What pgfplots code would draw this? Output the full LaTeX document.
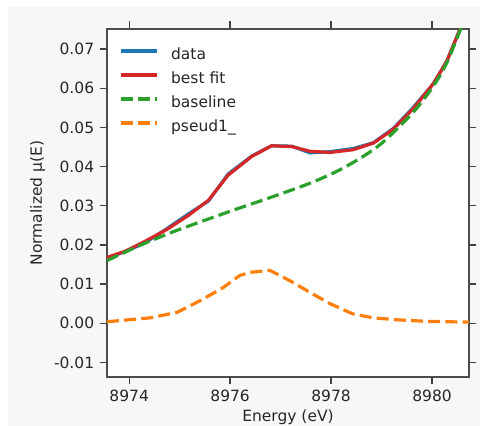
\documentclass[border=0pt]{standalone}
\usepackage{fontspec}
\setmainfont{DejaVu Sans}
\usepackage{pgfplots}
\pgfplotsset{compat=1.18}
\definecolor{tabblue}{HTML}{1F77B4}
\definecolor{tabred}{HTML}{D62728}
\definecolor{tabgreen}{HTML}{2CA02C}
\definecolor{taborange}{HTML}{FF7F0E}
\definecolor{figbg}{HTML}{F7F7F7}
\definecolor{txt}{HTML}{262626}
\begin{document}
\fontsize{15.5pt}{18pt}\selectfont
\begin{tikzpicture}[x=1pt,y=1pt]
\useasboundingbox (0,0) rectangle (480,426);
\fill[figbg] (8,0) rectangle (480,419);
\begin{axis}[
  at={(107pt,49pt)}, anchor=south west,
  scale only axis, width=362pt, height=348pt,
  xmin=8973.56, xmax=8980.733, ymin=-0.0137, ymax=0.0751,
  scaled x ticks=false, scaled y ticks=false,
  axis background/.style={fill=white},
  xtick={8974,8976,8978,8980},
  xticklabels={8974,8976,8978,8980},
  ytick={-0.01,0,0.01,0.02,0.03,0.04,0.05,0.06,0.07},
  yticklabels={-0.01,0.00,0.01,0.02,0.03,0.04,0.05,0.06,0.07},
  tick align=outside,
  major tick length=7.5pt,
  every tick/.style={line width=1.3pt, black!75},
  axis line style={line width=1.3pt, black!70},
  ticklabel style={font=\fontsize{15.5pt}{18pt}\selectfont, text=txt},
  xlabel={Energy (eV)},
  ylabel={Normalized μ(E)},
  label style={font=\fontsize{15.5pt}{18pt}\selectfont, text=txt},
  xlabel style={at={(axis description cs:0.5,-0.1293)}, anchor=base, inner sep=0pt},
  ylabel style={at={(axis description cs:-0.1796,0.5)}, anchor=base, inner sep=0pt},
  legend cell align=left,
  legend image code/.code={\draw[#1] (0pt,4.5pt) -- (36pt,4.5pt);},
  legend style={draw=none, fill=none, inner sep=0pt, outer sep=0pt,
    at={(axis description cs:0.034,0.946)}, anchor=north west,
    row sep=8.5pt, column sep=12.6pt,
    nodes={inner sep=0pt, text height=11.5pt, text depth=4pt, text=txt,
      font=\fontsize{15.5pt}{18pt}\selectfont}},
]
\addplot[tabblue, line width=3.2pt] coordinates {
(8973.56,0.0166) (8973.92,0.0183) (8974.31,0.0205) (8974.74,0.0241)
(8975.17,0.0279) (8975.57,0.0312) (8975.96,0.0381) (8976.43,0.0427)
(8976.82,0.0453) (8977.22,0.0452) (8977.58,0.0435) (8977.98,0.0438)
(8978.44,0.0446) (8978.84,0.0461) (8979.23,0.0497) (8979.63,0.0551)
(8980.03,0.0612) (8980.29,0.0668) (8980.55,0.0749) (8980.75,0.0800)
};
\addlegendentry{data}
\addplot[tabred, line width=3.2pt] coordinates {
(8973.56,0.0168) (8973.92,0.0184) (8974.31,0.0209) (8974.74,0.0239)
(8975.17,0.0275) (8975.57,0.0314) (8975.96,0.0378) (8976.43,0.0426)
(8976.82,0.0453) (8977.22,0.0451) (8977.58,0.0439) (8977.98,0.0436)
(8978.44,0.0443) (8978.84,0.0460) (8979.23,0.0495) (8979.63,0.0548)
(8980.03,0.0612) (8980.29,0.0668) (8980.55,0.0749) (8980.75,0.0800)
};
\addlegendentry{best fit}
\addplot[tabgreen, line width=3.2pt, dash pattern=on 12pt off 5.2pt, smooth, tension=0.5] coordinates {
(8973.56,0.0160) (8974.18,0.0197) (8974.84,0.0232) (8975.50,0.0263)
(8976.16,0.0293) (8976.82,0.0322) (8977.65,0.0361)
(8978.31,0.0401) (8978.97,0.0456) (8979.63,0.0539)
(8980.03,0.0606) (8980.29,0.0664) (8980.55,0.0745) (8980.75,0.0810)
};
\addlegendentry{baseline}
\addplot[taborange, line width=3.2pt, dash pattern=on 12pt off 5.2pt] coordinates {
(8973.56,0.0004) (8974.42,0.0014) (8974.95,0.0028) (8975.41,0.0058)
(8975.86,0.0091) (8976.19,0.0122) (8976.39,0.0130) (8976.79,0.0135)
(8977.18,0.0109) (8977.58,0.0079) (8977.98,0.0050) (8978.43,0.0024)
(8978.83,0.0014) (8979.30,0.0009) (8979.89,0.0005) (8980.73,0.0003)
};
\addlegendentry{pseud1\_}
\end{axis}
\end{tikzpicture}
\end{document}
